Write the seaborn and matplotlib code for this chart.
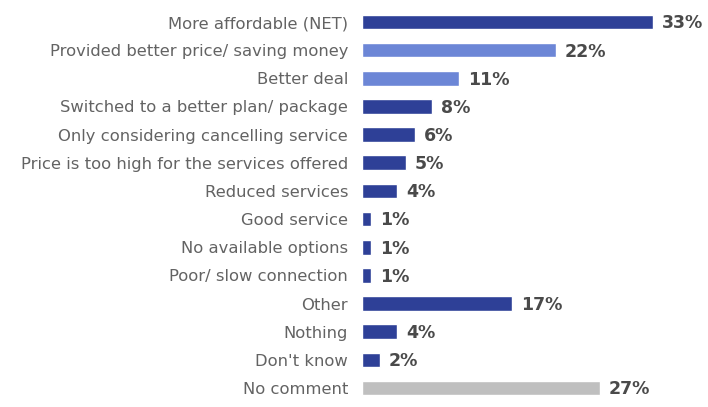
import matplotlib
matplotlib.use("Agg")
import matplotlib.pyplot as plt
import seaborn as sns
import pandas as pd

categories = [
    "More affordable (NET)",
    "Provided better price/ saving money",
    "Better deal",
    "Switched to a better plan/ package",
    "Only considering cancelling service",
    "Price is too high for the services offered",
    "Reduced services",
    "Good service",
    "No available options",
    "Poor/ slow connection",
    "Other",
    "Nothing",
    "Don't know",
    "No comment",
]
values = [33, 22, 11, 8, 6, 5, 4, 1, 1, 1, 17, 4, 2, 27]
groups = ["net", "sub", "sub", "main", "main", "main", "main", "main", "main",
          "main", "main", "main", "main", "none"]

group_colors = {"net": "#2E4097", "sub": "#6C86D6", "main": "#2E4097", "none": "#BFBFBF"}

df = pd.DataFrame({"reason": categories, "pct": values, "group": groups})

sns.set_style("white")
plt.rcParams["font.family"] = ["DejaVu Sans"]

fig = plt.figure(figsize=(7.08, 4.07), dpi=100)
ax = fig.add_axes([362 / 708, 0, 1 - 362 / 708, 1])

sns.barplot(data=df, x="pct", y="reason", hue="reason",
            palette=[group_colors[g] for g in groups],
            legend=False, width=0.52, ax=ax, saturation=1)

ax.set_xlim(0, 39.3)
ax.set_ylim(13 + 19 / 28.15, -22 / 28.15)
ax.set_xlabel("")
ax.set_ylabel("")
ax.set_xticks([])
for s in ax.spines.values():
    s.set_visible(False)
ax.tick_params(axis="y", length=0, pad=10, labelsize=11.8, labelcolor="#636363")

for i, v in enumerate(values):
    ax.annotate(f"{v}%", xy=(v, i), xytext=(6.5, -1), textcoords="offset points",
                va="center", ha="left", fontsize=12.5, fontweight="bold", color="#4A4A4A")

fig.savefig("out.png", dpi=100)
